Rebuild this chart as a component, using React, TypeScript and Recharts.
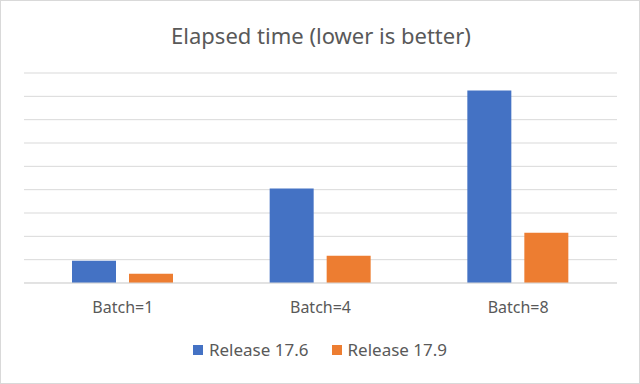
import { BarChart, Bar, XAxis, YAxis, CartesianGrid, Legend } from 'recharts';

const categories = ['Batch=1', 'Batch=4', 'Batch=8'];
const release176 = [0.95, 4.05, 8.25];
const release179 = [0.4, 1.17, 2.15];
const yTicks = [0, 1, 2, 3, 4, 5, 6, 7, 8, 9];

const data = categories.map((name, i) => ({
  name,
  r176: release176[i],
  r179: release179[i],
}));

const FONT = '"Noto Sans", "Open Sans", sans-serif';
const TEXT = '#595959';

function LegendContent(props: any) {
  const items = props.payload || [];
  return (
    <div style={{ display: 'flex', justifyContent: 'center', gap: 23, fontFamily: FONT, fontSize: 17, color: TEXT }}>
      {items.map((it: any) => (
        <div key={it.value} style={{ display: 'flex', alignItems: 'center' }}>
          <span style={{ width: 10, height: 10, background: it.color, marginRight: 6, display: 'inline-block' }} />
          <span>{it.value}</span>
        </div>
      ))}
    </div>
  );
}

export default function App() {
  return (
    <div
      style={{
        position: 'fixed',
        top: 0,
        left: 0,
        width: 640,
        height: 384,
        background: '#fff',
        boxSizing: 'border-box',
        border: '1px solid #d9d9d9',
      }}
    >
      <div
        style={{
          position: 'absolute',
          top: 19,
          left: 0,
          width: 640,
          textAlign: 'center',
          fontFamily: FONT,
          fontSize: 22,
          color: TEXT,
        }}
      >
        Elapsed time (lower is better)
      </div>
      <div style={{ position: 'absolute', top: -1, left: -1 }}>
        <BarChart
          width={640}
          height={384}
          data={data}
          margin={{ top: 73, right: 23, bottom: 71, left: 24 }}
          barCategoryGap={48}
          barGap={13}
        >
          <CartesianGrid vertical={false} stroke="#d9d9d9" />
          <XAxis
            dataKey="name"
            height={30}
            tickLine={false}
            tickSize={0}
            tickMargin={19}
            axisLine={{ stroke: '#d9d9d9' }}
            tick={{ fill: TEXT, fontSize: 16, fontFamily: FONT }}
          />
          <YAxis hide domain={[0, 9]} ticks={yTicks} />
          <Legend
            layout="horizontal"
            verticalAlign="middle"
            align="center"
            wrapperStyle={{ top: 338, left: 0, width: 640 }}
            content={<LegendContent />}
          />
          <Bar dataKey="r176" name="Release 17.6" fill="#4472c4" isAnimationActive={false} />
          <Bar dataKey="r179" name="Release 17.9" fill="#ed7d31" isAnimationActive={false} />
        </BarChart>
      </div>
    </div>
  );
}
